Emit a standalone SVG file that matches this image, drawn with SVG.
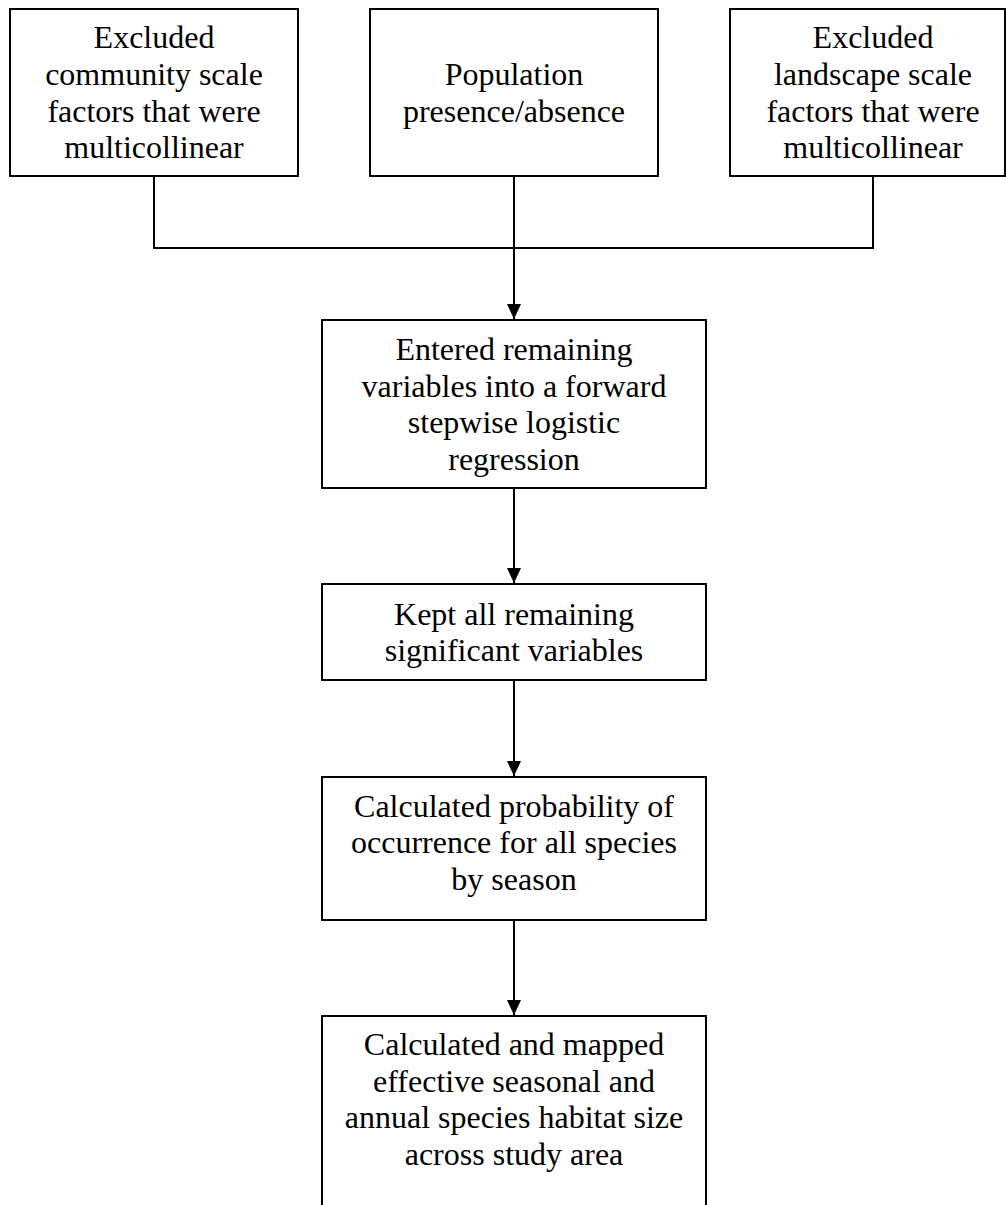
<svg xmlns="http://www.w3.org/2000/svg" width="1006" height="1205" viewBox="0 0 1006 1205">
<style>
.box{fill:#fff;stroke:#000;stroke-width:2}
.t{font-family:"Liberation Serif","Times New Roman",serif;font-size:32px;fill:#000;text-anchor:middle}
.c{fill:none;stroke:#000;stroke-width:2}
</style>
<defs>
<marker id="ah" markerWidth="15" markerHeight="14" refX="15" refY="7" orient="auto" markerUnits="userSpaceOnUse" viewBox="0 0 15 14">
<path d="M0,0 L15,7 L0,14 Z" fill="#000"/>
</marker>
</defs>
<rect width="1006" height="1205" fill="#fff"/>
<g id="connectors">
<path class="c" d="M154,176 V248 H873 V176"/>
<path class="c" d="M514,176 V319" marker-end="url(#ah)"/>
<path class="c" d="M514,488 V583" marker-end="url(#ah)"/>
<path class="c" d="M514,680 V776" marker-end="url(#ah)"/>
<path class="c" d="M514,920 V1015" marker-end="url(#ah)"/>
</g>
<g id="n1">
<rect class="box" x="10" y="9" width="288" height="167"/>
<text class="t" x="154" y="48">Excluded</text>
<text class="t" x="154" y="85">community scale</text>
<text class="t" x="154" y="122">factors that were</text>
<text class="t" x="154" y="158">multicollinear</text>
</g>
<g id="n2">
<rect class="box" x="370" y="9" width="288" height="167"/>
<text class="t" x="514" y="85">Population</text>
<text class="t" x="514" y="122">presence/absence</text>
</g>
<g id="n3">
<rect class="box" x="730" y="9" width="275" height="167"/>
<text class="t" x="873" y="48">Excluded</text>
<text class="t" x="873" y="85">landscape scale</text>
<text class="t" x="873" y="122">factors that were</text>
<text class="t" x="873" y="158">multicollinear</text>
</g>
<g id="n4">
<rect class="box" x="322" y="320" width="384" height="168"/>
<text class="t" x="514" y="360">Entered remaining</text>
<text class="t" x="514" y="397">variables into a forward</text>
<text class="t" x="514" y="433">stepwise logistic</text>
<text class="t" x="514" y="470">regression</text>
</g>
<g id="n5">
<rect class="box" x="322" y="584" width="384" height="96"/>
<text class="t" x="514" y="625">Kept all remaining</text>
<text class="t" x="514" y="661">significant variables</text>
</g>
<g id="n6">
<rect class="box" x="322" y="777" width="384" height="143"/>
<text class="t" x="514" y="817">Calculated probability of</text>
<text class="t" x="514" y="853">occurrence for all species</text>
<text class="t" x="514" y="890">by season</text>
</g>
<g id="n7">
<rect class="box" x="322" y="1016" width="384" height="200"/>
<text class="t" x="514" y="1055">Calculated and mapped</text>
<text class="t" x="514" y="1092">effective seasonal and</text>
<text class="t" x="514" y="1128">annual species habitat size</text>
<text class="t" x="514" y="1165">across study area</text>
</g>
</svg>
